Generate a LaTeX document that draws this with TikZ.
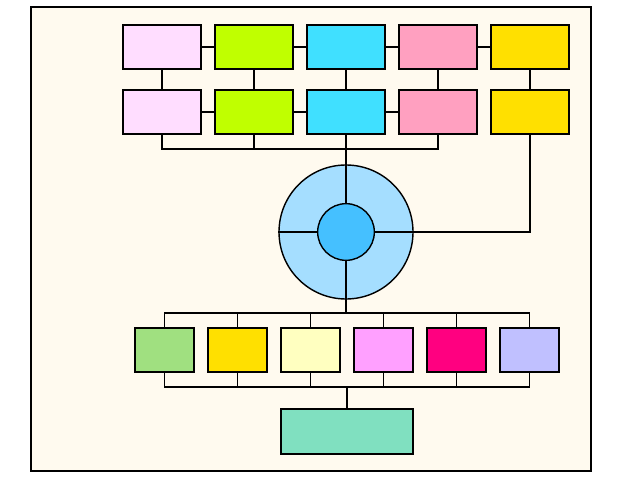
\documentclass[tikz,border=0pt]{standalone}
\usepackage{tikz}
\usetikzlibrary{positioning}
\definecolor{bgcream}{HTML}{FFFAEF}
\definecolor{cpink}{HTML}{FFDDFF}
\definecolor{clime}{HTML}{C0FF00}
\definecolor{ccyan}{HTML}{40E0FF}
\definecolor{crose}{HTML}{FFA0C0}
\definecolor{cgold}{HTML}{FFE000}
\definecolor{cgreen}{HTML}{A0E080}
\definecolor{cyellow}{HTML}{FFFFC0}
\definecolor{cviolet}{HTML}{FFA0FF}
\definecolor{cmagenta}{HTML}{FF0080}
\definecolor{clilac}{HTML}{C0C0FF}
\definecolor{cmint}{HTML}{80E0C0}
\definecolor{cring}{HTML}{A5DEFF}
\definecolor{ccore}{HTML}{45C0FF}
\tikzstyle{topbox} = [rectangle, draw=black, line width=1.2pt, minimum width=2.34cm, minimum height=1.32cm]
\tikzstyle{lowbox} = [rectangle, draw=black, line width=1.2pt, minimum width=1.77cm, minimum height=1.32cm]
\tikzstyle{link} = [line width=1.2pt]
\begin{document}
\begin{tikzpicture}[x=0.03cm, y=-0.03cm]
    \useasboundingbox (0,0) rectangle (640,480);
    \draw[line width=1.2pt, fill=bgcream] (31,7) rectangle (591,471);

    % two upper rows
    \node (a1) [topbox, fill=cpink] at (162,47) {};
    \node (a2) [topbox, fill=clime] at (254,47) {};
    \node (a3) [topbox, fill=ccyan] at (346,47) {};
    \node (a4) [topbox, fill=crose] at (438,47) {};
    \node (a5) [topbox, fill=cgold] at (530,47) {};
    \node (b1) [topbox, fill=cpink] at (162,112) {};
    \node (b2) [topbox, fill=clime] at (254,112) {};
    \node (b3) [topbox, fill=ccyan] at (346,112) {};
    \node (b4) [topbox, fill=crose] at (438,112) {};
    \node (b5) [topbox, fill=cgold] at (530,112) {};

    % hub
    \node (ring) [circle, draw=black, line width=1.2pt, fill=cring, minimum size=4.02cm] at (346,232) {};
    \node (core) [circle, draw=black, line width=1.2pt, fill=ccore, minimum size=1.7cm] at (346,232) {};

    % lower rows
    \node (c1) [lowbox, fill=cgreen] at (164.5,350) {};
    \node (c2) [lowbox, fill=cgold] at (237.5,350) {};
    \node (c3) [lowbox, fill=cyellow] at (310.5,350) {};
    \node (c4) [lowbox, fill=cviolet] at (383.5,350) {};
    \node (c5) [lowbox, fill=cmagenta] at (456.5,350) {};
    \node (c6) [lowbox, fill=clilac] at (529.5,350) {};
    \node (base) [rectangle, draw=black, line width=1.2pt, fill=cmint, minimum width=3.96cm, minimum height=1.35cm] at (347,431.5) {};

    \coordinate (topbus) at (346,149);
    \coordinate (lowbus) at (346,313);
    \coordinate (basebus) at (346,387);

    \draw [link] (a1) -- (a2);
    \draw [link] (a2) -- (a3);
    \draw [link] (a3) -- (a4);
    \draw [link] (a4) -- (a5);
    \foreach \i in {1,...,5}
        \draw [link] (a\i) -- (b\i);
    \draw [link] (b1) -- (b2);
    \draw [link] (b2) -- (b3);
    \draw [link] (b3) -- (b4);
    \draw [link] (b1.south) |- (topbus) -| (b4.south);
    \draw [link] (b2.south) -- (b2.south |- topbus);
    \draw [link] (b3.south) -- (ring.north);
    \draw [link] (b5.south) |- (ring.east);
    \draw [link] (ring.north) -- (core.north);
    \draw [link] (ring.south) -- (core.south);
    \draw [link] (ring.east) -- (core.east);
    \draw [link] (ring.west) -- (core.west);

    \draw [link] (ring.south) -- (lowbus);
    \draw [link] (c1.north) |- (lowbus) -| (c6.north);
    \draw [link] (c1.south) |- (basebus) -| (c6.south);
    \foreach \i in {2,...,5} {
        \draw [link] (c\i.north) -- (c\i.north |- lowbus);
        \draw [link] (c\i.south) -- (c\i.south |- basebus);
    }
    \draw [link] (base.north) -- (base.north |- basebus);
\end{tikzpicture}
\end{document}
